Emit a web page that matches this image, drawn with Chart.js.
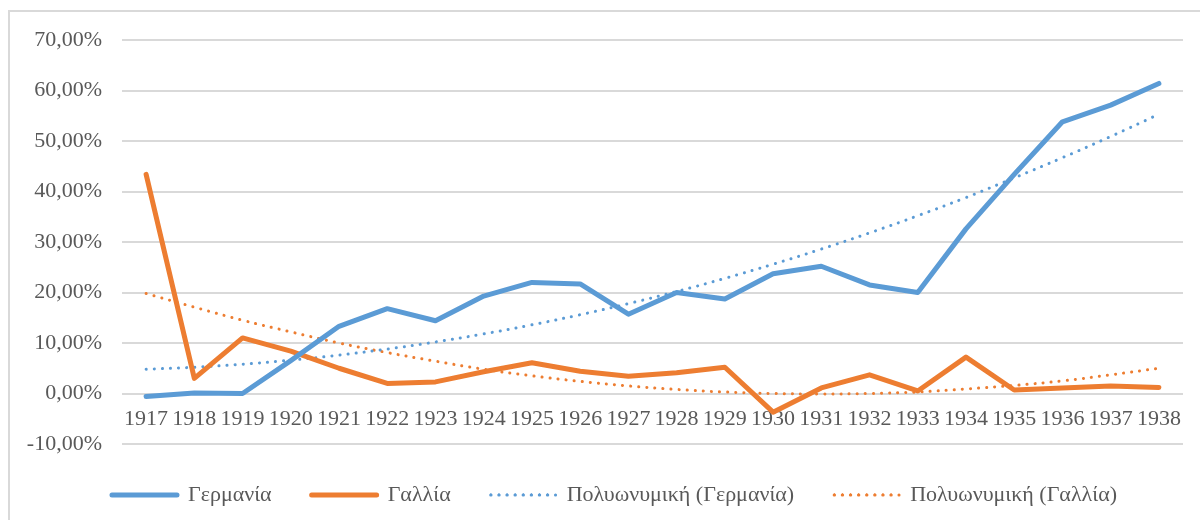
<!DOCTYPE html>
<html>
<head>
<meta charset="utf-8">
<script src="https://cdn.jsdelivr.net/npm/chart.js@4.4.1/dist/chart.umd.min.js"></script>
<style>
    body { margin: 0; background: #fff; overflow: hidden; }
    #frame { position: absolute; left: 8px; top: 10px; width: 1300px; height: 600px; border-left: 2px solid #d9d9d9; border-top: 2px solid #d9d9d9; }
    #wrap { position: absolute; left: 0; top: 0; width: 1200px; height: 520px; }
</style>
</head>
<body>
<div id="frame"></div>
<div id="wrap"><canvas id="myChart"></canvas></div>
<script>
const years = ['1917', '1918', '1919', '1920', '1921', '1922', '1923', '1924', '1925', '1926', '1927',
    '1928', '1929', '1930', '1931', '1932', '1933', '1934', '1935', '1936', '1937', '1938'];

// Γερμανία
const germany = [-0.6, 0.1, 0.0, 6.5, 13.3, 16.8, 14.4, 19.3, 22.0, 21.7, 15.7,
    20.0, 18.7, 23.7, 25.2, 21.5, 20.0, 32.6, 43.4, 53.8, 57.1, 61.4];

// Γαλλία
const france = [43.4, 3.0, 11.0, 8.4, 5.0, 2.0, 2.3, 4.3, 6.1, 4.4, 3.4,
    4.1, 5.2, -3.7, 1.1, 3.7, 0.5, 7.2, 0.7, 1.1, 1.5, 1.2];

// Πολυωνυμική (Γερμανία)
const germanyTrend = [4.8, 5.2, 5.8, 6.6, 7.6, 8.8, 10.2, 11.8, 13.6, 15.6, 17.8,
    20.2, 22.8, 25.6, 28.6, 31.8, 35.2, 38.8, 42.7, 46.7, 50.9, 55.3];

// Πολυωνυμική (Γαλλία)
const franceTrend = [19.8, 17.1, 14.5, 12.2, 10.0, 8.1, 6.4, 4.8, 3.5, 2.4, 1.5,
    0.8, 0.3, 0.0, -0.1, 0.0, 0.3, 0.9, 1.6, 2.5, 3.7, 5.0];

const yTicks = [-10, 0, 10, 20, 30, 40, 50, 60, 70];

const blue = '#5b9bd5';
const orange = '#ed7d31';
const font = { family: '"Liberation Serif", serif', size: 22 };

Chart.defaults.color = '#595959';

// nudge the legend a little to the right, like the original
const legendShift = {
    id: 'legendShift',
    afterLayout(chart) {
        chart.legend.left += 11;
        chart.legend.right += 11;
    }
};

const ctx = document.getElementById('myChart');
const myChart = new Chart(ctx, {
    type: 'line',
    data: {
        labels: years,
        datasets: [{
            label: 'Γερμανία',
            data: germany,
            borderColor: blue,
            backgroundColor: blue,
            borderWidth: 5,
            borderCapStyle: 'round',
            borderJoinStyle: 'round',
            pointRadius: 0,
            tension: 0
        }, {
            label: 'Γαλλία',
            data: france,
            borderColor: orange,
            backgroundColor: orange,
            borderWidth: 5,
            borderCapStyle: 'round',
            borderJoinStyle: 'round',
            pointRadius: 0,
            tension: 0
        }, {
            label: 'Πολυωνυμική (Γερμανία)',
            data: germanyTrend,
            borderColor: blue,
            backgroundColor: blue,
            borderWidth: 3,
            borderDash: [0.1, 8],
            borderCapStyle: 'round',
            pointRadius: 0,
            tension: 0.4
        }, {
            label: 'Πολυωνυμική (Γαλλία)',
            data: franceTrend,
            borderColor: orange,
            backgroundColor: orange,
            borderWidth: 3,
            borderDash: [0.1, 8],
            borderCapStyle: 'round',
            pointRadius: 0,
            tension: 0.4
        }]
    },
    options: {
        responsive: true,
        maintainAspectRatio: false,
        animation: false,
        layout: {
            padding: { top: 40, left: 24, right: 17, bottom: 4 }
        },
        plugins: {
            legend: {
                position: 'bottom',
                labels: {
                    font: font,
                    boxWidth: 65,
                    boxHeight: 0,
                    padding: 40
                }
            },
            tooltip: { enabled: false }
        },
        scales: {
            x: {
                position: { y: 0 },
                offset: true,
                grid: { display: false },
                border: { display: false },
                ticks: {
                    font: font,
                    autoSkip: false,
                    maxRotation: 0,
                    padding: 5
                }
            },
            y: {
                min: -10,
                max: 70,
                afterBuildTicks: (scale) => {
                    scale.ticks = yTicks.map(v => ({ value: v }));
                },
                afterFit: (scale) => {
                    scale.width = 98;
                },
                grid: {
                    color: '#d9d9d9',
                    lineWidth: 2,
                    drawTicks: false
                },
                border: { display: false },
                ticks: {
                    font: font,
                    padding: 20,
                    callback: (value) => value.toFixed(2).replace('.', ',') + '%'
                }
            }
        }
    },
    plugins: [legendShift]
});
</script>
</body>
</html>
